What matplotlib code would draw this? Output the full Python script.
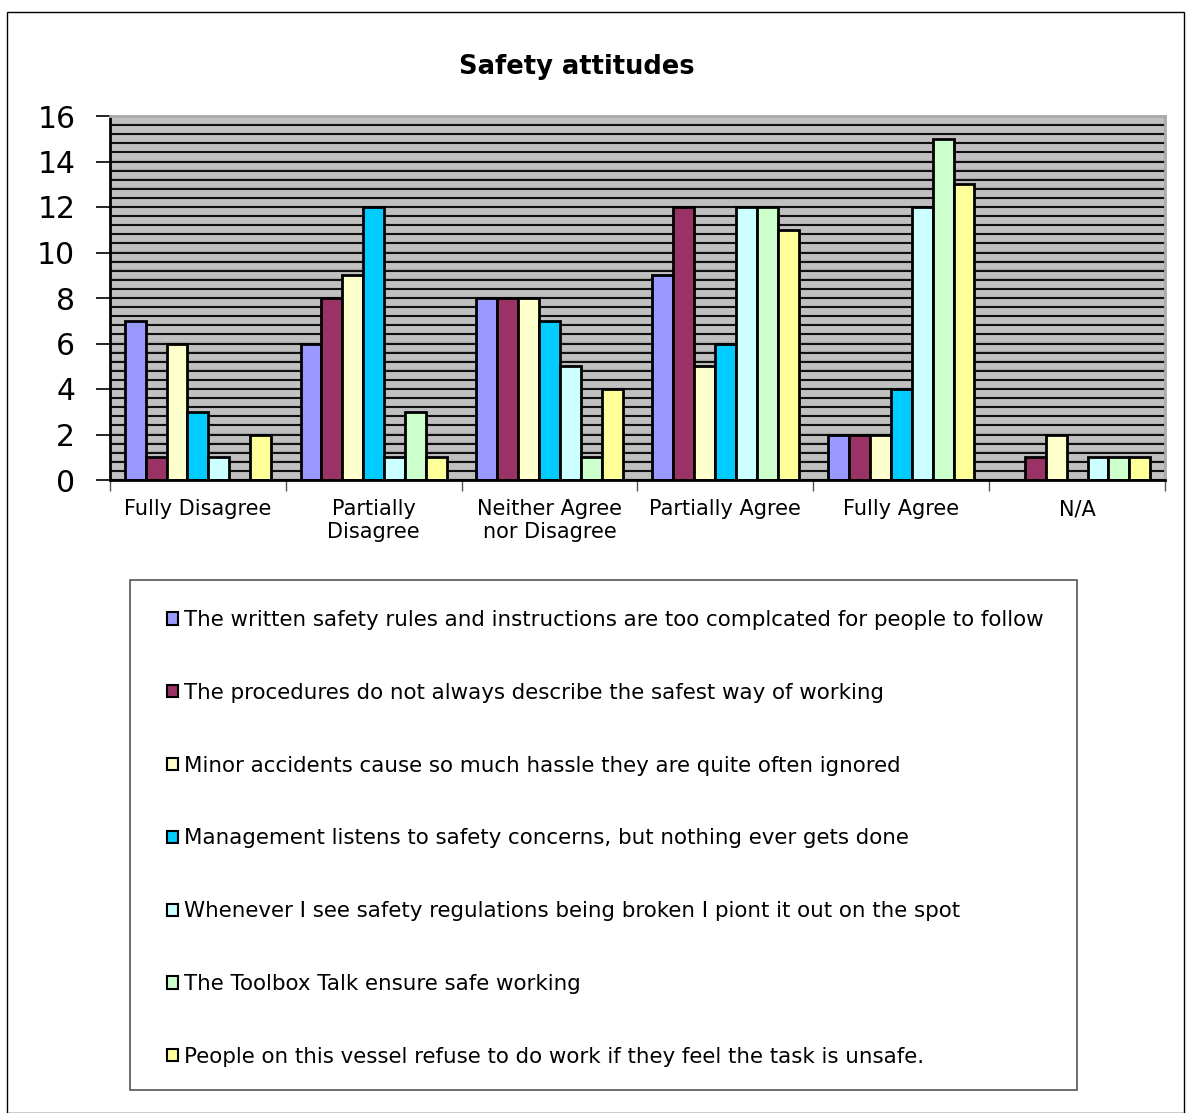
import numpy as np
import matplotlib.pyplot as plt
from matplotlib.patches import Rectangle, Patch

categories = ["Fully Disagree", "Partially\nDisagree", "Neither Agree\nnor Disagree",
              "Partially Agree", "Fully Agree", "N/A"]

statements = [
    "The written safety rules and instructions are too complcated for people to follow",
    "The procedures do not always describe the safest way of working",
    "Minor accidents cause so much hassle they are quite often ignored",
    "Management listens to safety concerns, but nothing ever gets done",
    "Whenever I see safety regulations being broken I piont it out on the spot",
    "The Toolbox Talk ensure safe working",
    "People on this vessel refuse to do work if they feel the task is unsafe.",
]

written_rules = [7, 6, 8, 9, 2, 0]
procedures = [1, 8, 8, 12, 2, 1]
minor_accidents = [6, 9, 8, 5, 2, 2]
management = [3, 12, 7, 6, 4, 0]
point_out = [1, 1, 5, 12, 12, 1]
toolbox = [0, 3, 1, 12, 15, 1]
refuse_work = [2, 1, 4, 11, 13, 1]

series = [written_rules, procedures, minor_accidents, management,
          point_out, toolbox, refuse_work]
colors = ["#9999FF", "#993366", "#FFFFCC", "#00CCFF", "#CCFFFF", "#CCFFCC", "#FFFF99"]

W, H = 1186, 1113
fig = plt.figure(figsize=(W / 100, H / 100), dpi=100)
fig.patches.append(Rectangle((7 / W, 0), 1 - 9 / W, 1 - 12 / H,
                             transform=fig.transFigure, fill=False,
                             edgecolor="black", linewidth=1))

ax = fig.add_axes([110 / W, 1 - 480 / H, 1055 / W, 364 / H])
ax.set_facecolor("#C0C0C0")

# striped background grid every 0.4
for y in np.arange(0, 16.01, 0.4):
    ax.axhline(y + 0.06, color="#AEAEAE", linewidth=1.0, zorder=0.4)
    ax.axhline(y, color="#111111", linewidth=1.5, zorder=1)

x = np.arange(len(categories))
width = 0.119
for i, (vals, c) in enumerate(zip(series, colors)):
    ax.bar(x + (i - 3) * width, vals, width, color=c, edgecolor="black",
           linewidth=2, zorder=2)

ax.set_xlim(-0.5, len(categories) - 0.5)
ax.set_ylim(0, 16)
ax.set_yticks(range(0, 17, 2))
ax.tick_params(axis="y", labelsize=21.5, length=10, width=1.2, direction="out", pad=15)

ax.set_xticks(np.arange(-0.5, len(categories), 1))
ax.set_xticklabels([])
ax.set_xticks(x, minor=True)
ax.set_xticklabels(categories, minor=True, fontsize=15, linespacing=1.15)
ax.tick_params(axis="x", which="major", length=8, width=1, color="#555555")
ax.tick_params(axis="x", which="minor", length=0, pad=14)

for side in ["top", "right"]:
    ax.spines[side].set_color("#AAAAAA")
    ax.spines[side].set_linewidth(2)
ax.spines["left"].set_linewidth(2)
ax.spines["bottom"].set_linewidth(2)

fig.text(577 / W, 1 - 67 / H, "Safety attitudes", fontsize=18.5,
         fontweight="bold", ha="center", va="center")

# legend frame drawn separately so the padding can differ per side
fig.patches.append(Rectangle((130 / W, 1 - 1090 / H), 947 / W, 510 / H,
                             transform=fig.transFigure, facecolor="white",
                             edgecolor="#555555", linewidth=1.2, zorder=0))

handles = [Patch(facecolor=c, edgecolor="black", linewidth=1.5) for c in colors]
fig.legend(handles, statements, loc="upper left",
           bbox_to_anchor=(167 / W, 1 - 610 / H),
           fontsize=15.4, frameon=False,
           handlelength=0.5, handleheight=0.5, handletextpad=0.3,
           labelspacing=2.47, borderpad=0, borderaxespad=0)

fig.savefig("out.png", dpi=100)
